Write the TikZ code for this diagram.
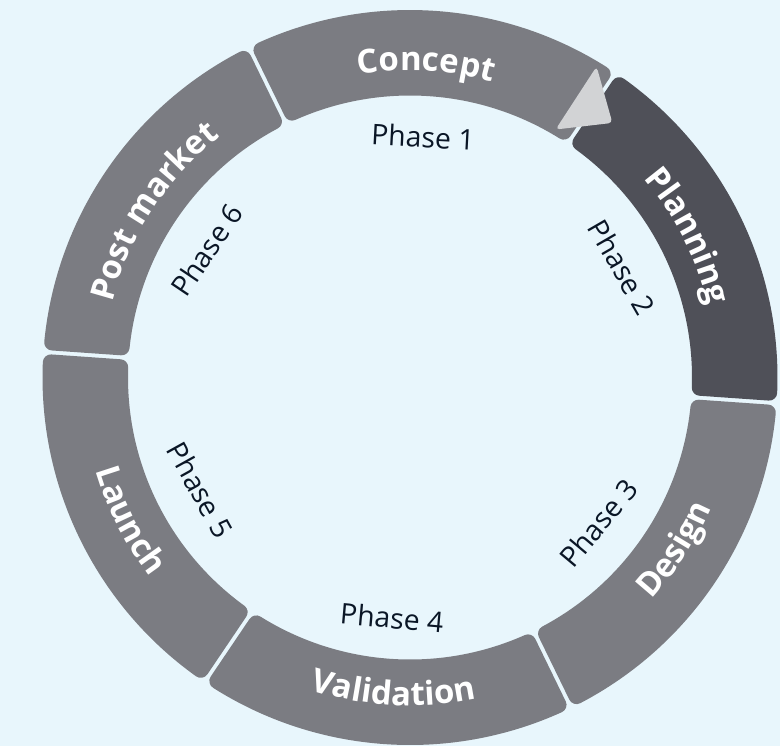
\documentclass[tikz,border=0pt]{standalone}
\usepackage{fontspec}
\newfontfamily\opensans{Open Sans}
\usepackage{tikz}
\usetikzlibrary{decorations.text}
\definecolor{bgblue}{RGB}{232,246,252}
\definecolor{seggray}{RGB}{123,124,130}
\definecolor{segdark}{RGB}{79,80,88}
\definecolor{arrowgray}{RGB}{210,211,213}
\definecolor{phasetext}{RGB}{10,22,38}
\tikzset{phase label/.style={font=\opensans\fontsize{14.2}{16}\selectfont, text=phasetext, inner sep=0pt},
	ring label/.style={decorate, decoration={text along path, text align=center,
		text={|\color{white}\opensans\bfseries\fontsize{16.5}{18}\selectfont|#1}}},}
% ring piece between two angles, corners rounded by the 8pt stroke
\newcommand{\ringseg}[3]{%
	\filldraw[#3, line width=8pt, line join=round]
	({#1+1.594}:179.75pt) arc[start angle={#1+1.594}, end angle={#2-1.594}, radius=179.75pt]
	-- ({#2-1.976}:145pt) arc[start angle={#2-1.976}, end angle={#1+1.976}, radius=145pt] -- cycle;}

\begin{document}
\begin{tikzpicture}
	\fill[bgblue] (-205pt,-184.25pt) rectangle (185pt,188.75pt);
	\useasboundingbox (-205pt,-184.25pt) rectangle (185pt,188.75pt);

	\ringseg{56}{116}{seggray}
	\ringseg{-4}{56}{segdark}
	\ringseg{-64}{-4}{seggray}
	\ringseg{-124}{-64}{seggray}
	\ringseg{-184}{-124}{seggray}
	\ringseg{116}{176}{seggray}
	\fill[arrowgray, rounded corners=2pt] (93.3pt,155.5pt) -- (101.2pt,127.3pt) -- (72.8pt,124pt) -- cycle;

	\path[ring label=Concept] (117:153.5pt) arc[start angle=117, end angle=57, radius=153.5pt];
	\path[ring label=Planning] (57:153.5pt) arc[start angle=57, end angle=-3, radius=153.5pt];
	\path[ring label=Post market] (177:153.5pt) arc[start angle=177, end angle=117, radius=153.5pt];
	\path[ring label=Design] (-63:164pt) arc[start angle=-63, end angle=-3, radius=164pt];
	\path[ring label=Validation] (-123:164pt) arc[start angle=-123, end angle=-63, radius=164pt];
	\path[ring label=Launch] (-183:164pt) arc[start angle=-183, end angle=-123, radius=164pt];

	\node[phase label, rotate=-3] (p1) at (86.9:120.5pt) {Phase 1};
	\node[phase label, rotate=-60] (p2) at (27.5:119.5pt) {Phase 2};
	\node[phase label, rotate=50] (p3) at (-37.7:119pt) {Phase 3};
	\node[phase label, rotate=-5] (p4) at (-94.3:120.5pt) {Phase 4};
	\node[phase label, rotate=-61] (p5) at (-151.8:119pt) {Phase 5};
	\node[phase label, rotate=56] (p6) at (147.9:120pt) {Phase 6};
\end{tikzpicture}
\end{document}
